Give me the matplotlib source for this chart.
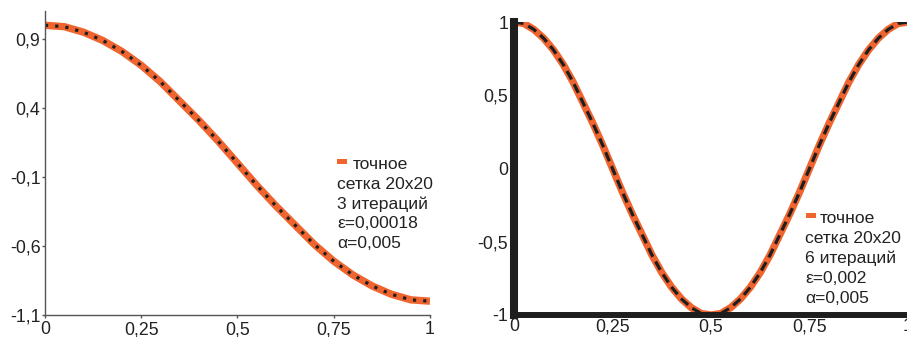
import matplotlib.pyplot as plt
from matplotlib.patches import Rectangle

plt.rcParams['font.family'] = ['Liberation Sans', 'DejaVu Sans']

# grid 20x20 -> 21 nodes on the left, finer sampling read on the right
x_left = [0, 0.05, 0.1, 0.15, 0.2, 0.25, 0.3, 0.35, 0.4, 0.45, 0.5,
          0.55, 0.6, 0.65, 0.7, 0.75, 0.8, 0.85, 0.9, 0.95, 1.0]
exact_left = [1.0, 0.99, 0.95, 0.89, 0.81, 0.71, 0.59, 0.45, 0.31, 0.16, 0.0,
              -0.16, -0.31, -0.45, -0.59, -0.71, -0.81, -0.89, -0.95, -0.99, -1.0]
approx_left = [1.0, 0.99, 0.95, 0.89, 0.81, 0.71, 0.59, 0.45, 0.31, 0.16, 0.0,
               -0.16, -0.31, -0.45, -0.59, -0.71, -0.81, -0.89, -0.95, -0.99, -1.0]

x_right = [0, 0.025, 0.05, 0.075, 0.1, 0.125, 0.15, 0.175, 0.2, 0.225, 0.25,
           0.275, 0.3, 0.325, 0.35, 0.375, 0.4, 0.425, 0.45, 0.475, 0.5,
           0.525, 0.55, 0.575, 0.6, 0.625, 0.65, 0.675, 0.7, 0.725, 0.75,
           0.775, 0.8, 0.825, 0.85, 0.875, 0.9, 0.925, 0.95, 0.975, 1.0]
exact_right = [1.0, 0.99, 0.95, 0.89, 0.81, 0.71, 0.59, 0.45, 0.31, 0.16, 0.0,
               -0.16, -0.31, -0.45, -0.59, -0.71, -0.81, -0.89, -0.95, -0.99, -1.0,
               -0.99, -0.95, -0.89, -0.81, -0.71, -0.59, -0.45, -0.31, -0.16, 0.0,
               0.16, 0.31, 0.45, 0.59, 0.71, 0.81, 0.89, 0.95, 0.99, 1.0]
approx_right = [1.0, 0.99, 0.95, 0.89, 0.81, 0.71, 0.59, 0.45, 0.31, 0.16, 0.0,
                -0.16, -0.31, -0.45, -0.59, -0.71, -0.81, -0.89, -0.95, -0.99, -1.0,
                -0.99, -0.95, -0.89, -0.81, -0.71, -0.59, -0.45, -0.31, -0.16, 0.0,
                0.16, 0.31, 0.45, 0.59, 0.71, 0.81, 0.89, 0.95, 0.99, 1.0]

xticks = [0, 0.25, 0.5, 0.75, 1]
xticklabels = ['0', '0,25', '0,5', '0,75', '1']
yticks_left = [0.9, 0.4, -0.1, -0.6, -1.1]
yticklabels_left = ['0,9', '0,4', '-0,1', '-0,6', '-1,1']
yticks_right = [1, 0.5, 0, -0.5, -1]
yticklabels_right = ['1', '0,5', '0', '-0,5', '-1']

legend_left = ['точное', 'сетка 20x20', '3 итераций', 'ε=0,00018', 'α=0,005']
legend_right = ['точное', 'сетка 20x20', '6 итераций', 'ε=0,002', 'α=0,005']

ORANGE = '#f0652f'
DARK = '#1e1e1e'
TXT = '#222222'
TICK_FS = 12.8
LEG_FS = 12.6

fig = plt.figure(figsize=(9.07, 3.37), dpi=100)

# ---- left panel ----
ax1 = fig.add_axes([0.0496, 0.0653, 0.4245, 0.9006])
ax1.plot(x_left, exact_left, color=ORANGE, lw=5.3, solid_capstyle='butt')
ax1.plot(x_left, approx_left, color=DARK, lw=2.3, linestyle=(0, (1, 2.2)),
         dash_capstyle='butt')
ax1.set_xlim(0, 1)
ax1.set_ylim(-1.1, 1.1)
ax1.set_xticks(xticks)
ax1.set_xticklabels(xticklabels)
ax1.set_yticks(yticks_left)
ax1.set_yticklabels(yticklabels_left)
for s in ['top', 'right']:
    ax1.spines[s].set_visible(False)
for s in ['left', 'bottom']:
    ax1.spines[s].set_color('#555555')
    ax1.spines[s].set_linewidth(1.0)
ax1.tick_params(direction='out', length=2.5, width=1, color='#555555',
                labelsize=TICK_FS, labelcolor=TXT)
ax1.tick_params(axis='y', pad=0.8)
ax1.tick_params(axis='x', pad=2.0)

ax1.add_patch(Rectangle((0.7584, 0.4983), 0.026, 0.0165, transform=ax1.transAxes,
                        color=ORANGE, lw=0))
ax1.text(0.80, 0.4818, legend_left[0], transform=ax1.transAxes, va='baseline',
         fontsize=LEG_FS, color=TXT)
for i, line in enumerate(legend_left[1:]):
    ax1.text(0.7584, 0.4158 - i * 0.0652, line, transform=ax1.transAxes,
             va='baseline', fontsize=LEG_FS, color=TXT)

# ---- right panel ----
ax2 = fig.add_axes([0.5667, 0.0653, 0.4344, 0.8694])
ax2.plot(x_right, exact_right, color=ORANGE, lw=5.3, solid_capstyle='butt')
ax2.plot(x_right, approx_right, color=DARK, lw=2.3, linestyle=(0, (3, 1.7)),
         dash_capstyle='butt')
ax2.set_xlim(0, 1)
ax2.set_ylim(-1, 1)
ax2.set_xticks(xticks)
ax2.set_xticklabels(xticklabels)
ax2.set_yticks(yticks_right)
ax2.set_yticklabels(yticklabels_right)
for s in ['top', 'right']:
    ax2.spines[s].set_visible(False)
ax2.spines['left'].set_linewidth(5.8)
ax2.spines['bottom'].set_linewidth(4.3)
for s in ['left', 'bottom']:
    ax2.spines[s].set_color(DARK)
    ax2.spines[s].set_capstyle('projecting')
ax2.tick_params(length=0, labelsize=TICK_FS, labelcolor=TXT)
ax2.tick_params(axis='y', pad=4.3)
ax2.tick_params(axis='x', pad=2.5)

ax2.add_patch(Rectangle((0.741, 0.331), 0.0254, 0.0171, transform=ax2.transAxes,
                        color=ORANGE, lw=0))
ax2.text(0.7766, 0.314, legend_right[0], transform=ax2.transAxes, va='baseline',
         fontsize=LEG_FS, color=TXT)
for i, line in enumerate(legend_right[1:]):
    ax2.text(0.7386, 0.2457 - i * 0.0683, line, transform=ax2.transAxes,
             va='baseline', fontsize=LEG_FS, color=TXT)

fig.savefig('out.png', dpi=100)
